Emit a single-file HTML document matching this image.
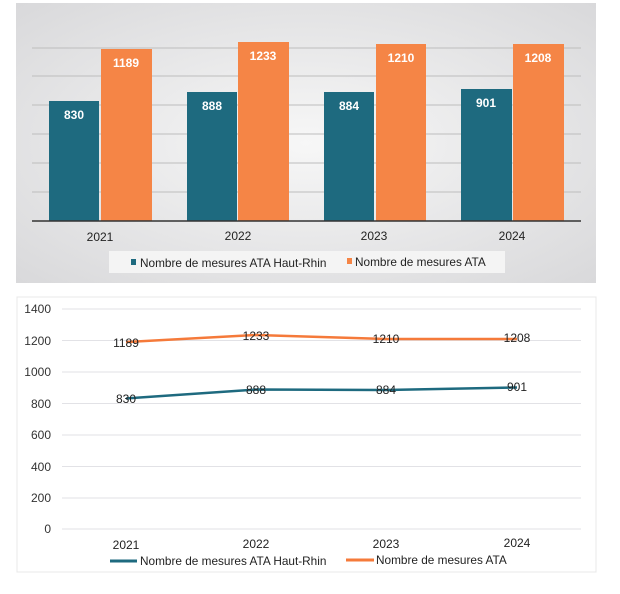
<!DOCTYPE html>
<html><head><style>
body{margin:0;background:#fff;width:620px;height:589px;overflow:hidden}
svg{font-family:"Liberation Sans",sans-serif}
</style></head><body>
<svg width="620" height="589" viewBox="0 0 620 589">
<defs>
<radialGradient id="bg" cx="50%" cy="50%" r="70%">
<stop offset="0" stop-color="#f7f7f7"/><stop offset="1" stop-color="#d9d9db"/>
</radialGradient>
</defs>
<rect x="16" y="3" width="580" height="280" fill="url(#bg)"/>
<g stroke="#bdbdbd" stroke-width="1">
<line x1="32" y1="48" x2="581" y2="48"/><line x1="32" y1="76" x2="581" y2="76"/>
<line x1="32" y1="105" x2="581" y2="105"/><line x1="32" y1="134" x2="581" y2="134"/>
<line x1="32" y1="163" x2="581" y2="163"/><line x1="32" y1="192" x2="581" y2="192"/>
</g>
<g fill="#1e6a7f">
<rect x="49" y="101" width="50" height="120"/><rect x="187" y="92" width="50" height="129"/>
<rect x="324" y="92" width="50" height="129"/><rect x="461" y="89" width="51" height="132"/>
</g>
<g fill="#f58546">
<rect x="101" y="49" width="51" height="172"/><rect x="238" y="42" width="51" height="179"/>
<rect x="376" y="44" width="50" height="177"/><rect x="513" y="44" width="51" height="177"/>
</g>
<line x1="32" y1="221" x2="581" y2="221" stroke="#333" stroke-width="1.5"/>
<g fill="#fff" font-weight="bold" font-size="12" text-anchor="middle">
<text x="74" y="119">830</text><text x="212" y="110">888</text><text x="349" y="110">884</text><text x="486" y="107">901</text>
<text x="126" y="67">1189</text><text x="263" y="60">1233</text><text x="401" y="62">1210</text><text x="538" y="62">1208</text>
</g>
<g fill="#222" font-size="12" text-anchor="middle">
<text x="100" y="241">2021</text><text x="238" y="240">2022</text><text x="374" y="240">2023</text><text x="512" y="240">2024</text>
</g>
<rect x="109" y="251" width="396" height="22" fill="#f4f4f4"/>
<rect x="131" y="259" width="5" height="6" fill="#1e6a7f"/>
<text x="140" y="267" font-size="11.8" fill="#222">Nombre de mesures ATA Haut-Rhin</text>
<rect x="347" y="258" width="5" height="6" fill="#f58546"/>
<text x="355" y="266" font-size="11.8" fill="#222">Nombre de mesures ATA</text>

<rect x="17" y="297" width="579" height="275" fill="#fff" stroke="#e8e8e8"/>
<g stroke="#e2e2e6" stroke-width="1">
<line x1="62" y1="309" x2="581" y2="309"/><line x1="62" y1="340.5" x2="581" y2="340.5"/>
<line x1="62" y1="372" x2="581" y2="372"/><line x1="62" y1="403.5" x2="581" y2="403.5"/>
<line x1="62" y1="435" x2="581" y2="435"/><line x1="62" y1="466.5" x2="581" y2="466.5"/>
<line x1="62" y1="498" x2="581" y2="498"/><line x1="62" y1="529" x2="581" y2="529"/>
</g>
<g fill="#333" font-size="12" text-anchor="end">
<text x="51" y="313">1400</text><text x="51" y="345">1200</text><text x="51" y="376">1000</text>
<text x="51" y="408">800</text><text x="51" y="439">600</text><text x="51" y="471">400</text>
<text x="51" y="502">200</text><text x="51" y="533">0</text>
</g>
<polyline points="126,342 256,335 386,339 517,339" fill="none" stroke="#f57a3a" stroke-width="2.5"/>
<polyline points="126,398.5 256,389.5 386,390 517,387.5" fill="none" stroke="#1e6a7f" stroke-width="2.5"/>
<g fill="#222" font-size="12" text-anchor="middle">
<text x="126" y="347">1189</text><text x="256" y="340">1233</text><text x="386" y="343">1210</text><text x="517" y="342">1208</text>
<text x="126" y="403">830</text><text x="256" y="394">888</text><text x="386" y="394">884</text><text x="517" y="391">901</text>
<text x="126" y="549">2021</text><text x="256" y="548">2022</text><text x="386" y="548">2023</text><text x="517" y="547">2024</text>
</g>
<line x1="110" y1="561" x2="137" y2="561" stroke="#1e6a7f" stroke-width="3"/>
<text x="140" y="565" font-size="11.8" fill="#222">Nombre de mesures ATA Haut-Rhin</text>
<line x1="346" y1="560" x2="374" y2="560" stroke="#f57a3a" stroke-width="3"/>
<text x="376" y="564" font-size="11.8" fill="#222">Nombre de mesures ATA</text>
</svg>
</body></html>
